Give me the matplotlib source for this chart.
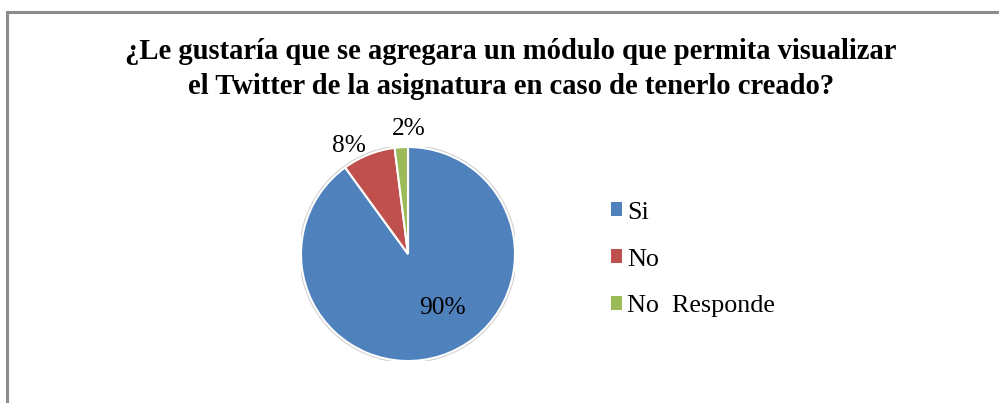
"""Gráfico de torta: módulo de Twitter de la asignatura."""

import matplotlib

matplotlib.use("Agg")
import matplotlib.pyplot as plt
import numpy as np
from matplotlib.patches import Circle, Rectangle

categorias = ["Si", "No", "No  Responde"]
porcentajes = [90, 8, 2]
colores = ["#4F81BD", "#C0504D", "#9BBB59"]
titulo = ("¿Le gustaría que se agregara un módulo que permita visualizar\n"
          "el Twitter de la asignatura en caso de tenerlo creado?")

# posición de cada etiqueta: (factor de radio, desfase angular en grados)
pos_etiquetas = [(0.60, 14), (1.15, 7), (1.17, -4)]

plt.rcParams["font.family"] = ["Liberation Serif", "DejaVu Serif"]

W, H = 999, 403
fig = plt.figure(figsize=(W / 100, H / 100), dpi=100)
fig.patch.set_facecolor("white")

# marco gris del área del gráfico (solo visibles lados izquierdo y superior)
fig.patches.append(Rectangle((6.5 / W, -0.1), 1.2, (H - 11.5) / H + 0.1,
                             transform=fig.transFigure, fill=False,
                             edgecolor="#8c8c8c", linewidth=2.2))

fig.text(511 / W, 1 - 69 / H, titulo, ha="center", va="center",
         fontsize=20.6, fontweight="bold", linespacing=1.42)

cx, cy, r = 408, 254, 107
ax = fig.add_axes([(cx - r) / W, (H - cy - r) / H, 2 * r / W, 2 * r / H])
ax.add_patch(Circle((0, 0), 1.01, facecolor="none", edgecolor="#d0d0d0",
                    linewidth=1.5, zorder=0))
wedges, _ = ax.pie(porcentajes, colors=colores, startangle=90, counterclock=False,
                   wedgeprops=dict(edgecolor="white", linewidth=1.5))
ax.set_xlim(-1, 1)
ax.set_ylim(-1, 1)
ax.set_aspect("equal")

for w, pct, (fr, da) in zip(wedges, porcentajes, pos_etiquetas):
    ang = np.deg2rad((w.theta1 + w.theta2) / 2 + da)
    ax.text(fr * np.cos(ang), fr * np.sin(ang), f"{pct}%", ha="center", va="center",
            fontsize=18.3, clip_on=False)

handles = [Rectangle((0, 0), 1, 1, facecolor=c) for c in colores]
fig.legend(handles, categorias, loc="center left", bbox_to_anchor=(587 / W, 1 - 259.5 / H),
           frameon=False, fontsize=18.8, handlelength=0.45, handleheight=0.45,
           handletextpad=0.18, labelspacing=0.95)

fig.savefig("out.png", dpi=100)
